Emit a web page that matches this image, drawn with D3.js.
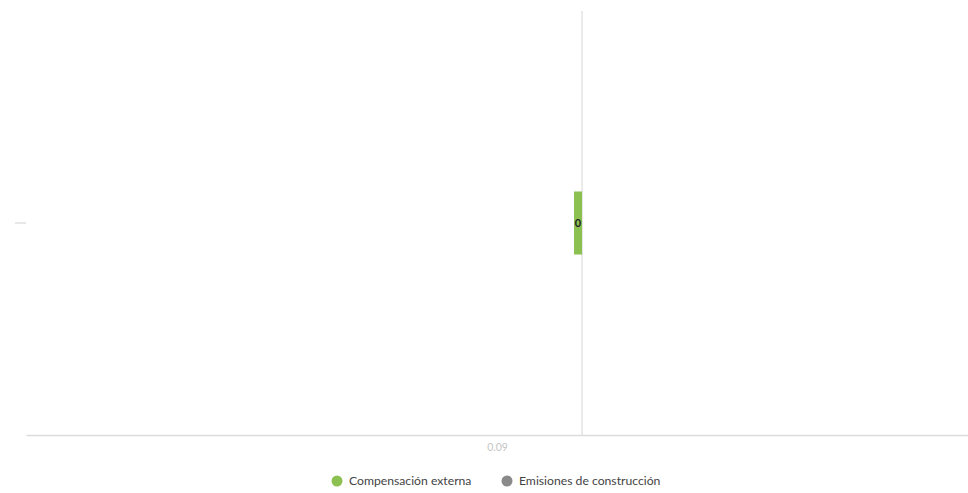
<!DOCTYPE html>
<html>
<head>
<meta charset="utf-8">
<script src="https://cdn.jsdelivr.net/npm/d3@7/dist/d3.min.js"></script>
<style>
  html, body { margin: 0; padding: 0; background: #fff; }
  svg { display: block; font-family: Lato, "Open Sans", sans-serif; }
</style>
</head>
<body>
<svg id="chart" width="968" height="493"></svg>
<script>
// ---- data ----
const categories = [""];
const seriesNames = ["Compensación externa", "Emisiones de construcción"];
const seriesColors = ["#8cc152", "#8a8a8a"];
const compensacionExterna = [0.0085];
const emisionesConstruccion = [0];
const xTickValues = [0.09];
const xTickLabels = ["0.09"];

// ---- layout ----
const W = 968, H = 493;
const plot = { left: 26, right: 968, top: 11, bottom: 435 };

const svg = d3.select("#chart");

const x = d3.scaleLinear().domain([0.5888, -0.4087]).range([plot.left, plot.right]);
const y = d3.scaleBand().domain(categories).range([plot.top, plot.bottom]).padding(0.741);

// zero line
svg.append("line")
  .attr("x1", x(0)).attr("x2", x(0))
  .attr("y1", plot.top).attr("y2", plot.bottom)
  .attr("stroke", "#dcdcdc").attr("stroke-width", 1.2);

// bars (stacked)
const stackData = categories.map((c, i) => ({ cat: c, vals: [compensacionExterna[i], emisionesConstruccion[i]] }));
stackData.forEach(d => {
  let acc = 0;
  d.vals.forEach((v, si) => {
    if (v === 0) return;
    const x0 = x(acc), x1 = x(acc + v);
    svg.append("rect")
      .attr("x", Math.min(x0, x1))
      .attr("width", Math.abs(x1 - x0))
      .attr("y", y(d.cat))
      .attr("height", y.bandwidth())
      .attr("fill", seriesColors[si]);
    svg.append("text")
      .attr("x", (x0 + x1) / 2)
      .attr("y", y(d.cat) + y.bandwidth() / 2)
      .attr("dy", "0.35em")
      .attr("text-anchor", "middle")
      .attr("font-size", 11)
      .attr("font-weight", "bold")
      .attr("fill", "#222")
      .text(d3.format(".0f")(v));
    acc += v;
  });
});

// x axis
const xAxis = d3.axisBottom(x).tickValues(xTickValues).tickSize(0).tickPadding(9)
  .tickFormat((d, i) => xTickLabels[i]);
const gx = svg.append("g").attr("transform", `translate(0,${plot.bottom})`).call(xAxis);
gx.select(".domain").attr("stroke", "#dcdcdc").attr("stroke-width", 1.5);
gx.selectAll("text").attr("fill", "#c4c4c4").attr("font-size", 10.5).attr("font-family", "Lato, sans-serif");

// y axis
const yAxis = d3.axisLeft(y).tickSize(11).tickPadding(4);
const gy = svg.append("g").attr("transform", `translate(${plot.left},0)`).call(yAxis);
gy.select(".domain").remove();
gy.selectAll(".tick line").attr("stroke", "#d0d0d0");
gy.selectAll("text").attr("fill", "#888").attr("font-size", 10);

// legend
const legend = svg.append("g").attr("transform", "translate(0,481)");
const legendX = [337, 507];
seriesNames.forEach((name, i) => {
  const g = legend.append("g").attr("transform", `translate(${legendX[i]},0)`);
  g.append("circle").attr("r", 5.5).attr("fill", seriesColors[i]);
  g.append("text").attr("x", 12).attr("dy", "0.35em")
    .attr("font-size", 12.2).attr("fill", "#444").text(name);
});
</script>
</body>
</html>
